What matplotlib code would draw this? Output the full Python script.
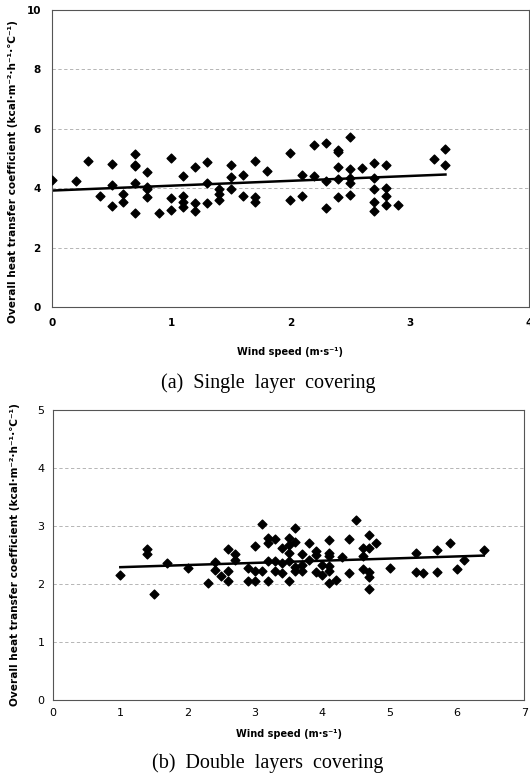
import matplotlib
matplotlib.use("Agg")
import matplotlib.pyplot as plt

# (a) single layer covering
single_wind = [0.0, 0.2, 0.3, 0.4, 0.5, 0.5, 0.5, 0.6, 0.6, 0.7, 0.7, 0.7, 0.7, 0.7,
               0.8, 0.8, 0.8, 0.8, 0.9, 1.0, 1.0, 1.0, 1.1, 1.1, 1.1, 1.1, 1.2, 1.2,
               1.2, 1.3, 1.3, 1.3, 1.4, 1.4, 1.4, 1.5, 1.5, 1.5, 1.6, 1.6, 1.7, 1.7,
               1.7, 1.8, 2.0, 2.0, 2.1, 2.1, 2.2, 2.2, 2.3, 2.3, 2.3, 2.4, 2.4, 2.4,
               2.4, 2.4, 2.5, 2.5, 2.5, 2.5, 2.5, 2.6, 2.7, 2.7, 2.7, 2.7, 2.7, 2.8,
               2.8, 2.8, 2.8, 2.9, 3.2, 3.3, 3.3]
single_coef = [4.29, 4.25, 4.92, 3.75, 4.81, 4.10, 3.39, 3.79, 3.55, 5.15, 4.79, 4.74, 4.18, 3.18,
               4.53, 4.04, 3.96, 3.70, 3.18, 5.03, 3.66, 3.27, 4.42, 3.73, 3.52, 3.35, 4.71, 3.51,
               3.24, 4.87, 4.17, 3.49, 3.97, 3.82, 3.60, 4.79, 4.36, 3.97, 4.45, 3.74, 4.93, 3.69,
               3.52, 4.57, 5.19, 3.60, 4.44, 3.73, 5.46, 4.42, 5.51, 4.24, 3.33, 5.28, 5.22, 4.71,
               4.31, 3.71, 5.71, 4.66, 4.33, 4.18, 3.76, 4.69, 4.85, 4.34, 3.97, 3.55, 3.22, 4.79,
               4.00, 3.72, 3.45, 3.44, 4.99, 5.33, 4.79]
single_trend_x = [0.0, 3.3]
single_trend_y = [3.92, 4.46]

# (b) double layers covering
double_wind = [1.0, 1.4, 1.4, 1.5, 1.7, 2.0, 2.3, 2.4, 2.4, 2.5, 2.6, 2.6, 2.6, 2.7, 2.7,
               2.9, 2.9, 3.0, 3.0, 3.0, 3.1, 3.1, 3.2, 3.2, 3.2, 3.2, 3.3, 3.3, 3.3, 3.4,
               3.4, 3.4, 3.5, 3.5, 3.5, 3.5, 3.5, 3.6, 3.6, 3.6, 3.6, 3.7, 3.7, 3.7, 3.8,
               3.8, 3.9, 3.9, 3.9, 4.0, 4.0, 4.1, 4.1, 4.1, 4.1, 4.1, 4.1, 4.2, 4.3, 4.4,
               4.4, 4.5, 4.6, 4.6, 4.6, 4.7, 4.7, 4.7, 4.7, 4.7, 4.8, 5.0, 5.4, 5.4, 5.5,
               5.7, 5.7, 5.9, 6.0, 6.1, 6.4]
double_coef = [2.16, 2.61, 2.52, 1.83, 2.36, 2.28, 2.02, 2.38, 2.24, 2.14, 2.60, 2.23, 2.05, 2.52, 2.42,
               2.27, 2.05, 2.65, 2.22, 2.06, 3.03, 2.23, 2.80, 2.70, 2.39, 2.05, 2.78, 2.39, 2.23, 2.62,
               2.36, 2.19, 2.80, 2.67, 2.53, 2.39, 2.06, 2.96, 2.73, 2.29, 2.22, 2.52, 2.33, 2.23, 2.71,
               2.42, 2.57, 2.50, 2.21, 2.33, 2.15, 2.76, 2.53, 2.48, 2.31, 2.23, 2.02, 2.07, 2.47, 2.78,
               2.19, 3.11, 2.48, 2.62, 2.25, 2.85, 2.62, 2.21, 2.12, 1.92, 2.71, 2.27, 2.54, 2.20, 2.19,
               2.59, 2.21, 2.70, 2.25, 2.41, 2.59]
double_trend_x = [1.0, 6.4]
double_trend_y = [2.29, 2.49]

ylabel = "Overall heat transfer coefficient (kcal·m⁻²·h⁻¹·℃⁻¹)"

fig = plt.figure(figsize=(5.3, 7.74), dpi=100)
ax1 = fig.add_axes([0.098, 0.6034, 0.900, 0.3837])
ax2 = fig.add_axes([0.100, 0.0956, 0.889, 0.3747])


def style(ax, bold):
    w = "bold" if bold else "normal"
    for s in ax.spines.values():
        s.set_color("#555555")
        s.set_linewidth(0.8)
    ax.grid(axis="y", color="#aaaaaa", linestyle=(0, (4, 3)), linewidth=0.6)
    ax.set_axisbelow(True)
    ax.tick_params(length=0, labelsize=7.5, pad=8)
    for lab in ax.get_xticklabels() + ax.get_yticklabels():
        lab.set_fontweight(w)
    ax.set_xlabel("Wind speed (m·s⁻¹)", fontsize=7, fontweight="bold", labelpad=6)
    ax.set_ylabel(ylabel, fontsize=7.6, fontweight="bold")


ax1.scatter(single_wind, single_coef, marker="D", s=20, color="black", zorder=3)
ax1.plot(single_trend_x, single_trend_y, color="black", linewidth=1.8)
ax1.set_xlim(0, 4)
ax1.set_ylim(0, 10)
ax1.set_xticks([0, 1, 2, 3, 4])
ax1.set_yticks([0, 2, 4, 6, 8, 10])
style(ax1, True)
ax1.yaxis.set_label_coords(-0.072, 0.455)
ax1.xaxis.set_label_coords(0.5, -0.135)

ax2.scatter(double_wind, double_coef, marker="D", s=20, color="black", zorder=3)
ax2.plot(double_trend_x, double_trend_y, color="black", linewidth=1.8)
ax2.set_xlim(0, 7)
ax2.set_ylim(0, 5)
ax2.set_xticks(range(8))
ax2.set_yticks(range(6))
style(ax2, False)
ax2.tick_params(labelsize=8, pad=6)
ax2.yaxis.set_label_coords(-0.07, 0.5)
ax2.xaxis.set_label_coords(0.5, -0.10)

fig.text(0.506, 1 - 383 / 774, "(a)  Single  layer  covering", ha="center", va="center",
         fontsize=14.5, family="Liberation Serif")
fig.text(0.506, 1 - 763 / 774, "(b)  Double  layers  covering", ha="center", va="center",
         fontsize=14.5, family="Liberation Serif")

fig.savefig("out.png", dpi=100)
